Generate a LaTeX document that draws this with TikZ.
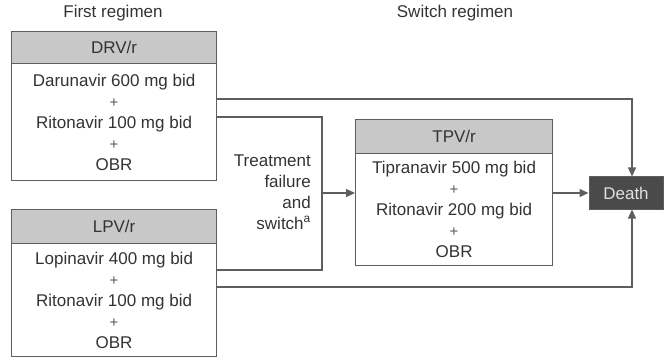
\documentclass[tikz,border=0pt]{standalone}
\usepackage{fontspec}
\setmainfont{Liberation Sans}
\usetikzlibrary{arrows.meta}
\definecolor{ink}{HTML}{333333}
\definecolor{edge}{HTML}{5E5E5E}
\definecolor{headfill}{HTML}{C8C8C8}
\definecolor{deathfill}{HTML}{4A4A4A}
\definecolor{plusink}{HTML}{5A5A5A}
% small, lighter plus sign between the drug lines
\newcommand{\drugplus}{{\fontsize{15}{21}\selectfont\color{plusink}+}}

\begin{document}
\begin{tikzpicture}[x=1pt,y=-1pt,
  font=\fontsize{17}{21}\selectfont, text=ink,
  headbox/.style={draw=edge, line width=1.2pt, fill=headfill, rectangle,
    inner sep=0pt, anchor=north west, minimum width=205pt},
  bodybox/.style={draw=edge, line width=1.2pt, fill=white, rectangle,
    inner sep=0pt, anchor=north west, minimum width=205pt, align=center},
  wire/.style={draw=edge, line width=1.3pt},
  arrowline/.style={wire, -{Triangle[length=9pt,width=8pt]}}]

\useasboundingbox (0,0) rectangle (666,358);

% column titles
\node (t1) at (113,13) {First regimen};
\node (t2) at (455,13) {Switch regimen};

% first regimen: DRV/r
\node[headbox, minimum height=32pt] (drvh) at (11,31) {DRV/r};
\node[bodybox, minimum height=117pt] (drvb) at (11,63)
  {Darunavir 600 mg bid\\\drugplus\\Ritonavir 100 mg bid\\\drugplus\\OBR};

% first regimen: LPV/r
\node[headbox, minimum height=34pt] (lpvh) at (11,209) {LPV/r};
\node[bodybox, minimum height=113pt] (lpvb) at (11,243)
  {Lopinavir 400 mg bid\\\drugplus\\Ritonavir 100 mg bid\\\drugplus\\OBR};

% switch regimen: TPV/r
\node[headbox, minimum width=197pt, minimum height=34pt] (tpvh) at (355,119) {TPV/r};
\node[bodybox, minimum width=197pt, minimum height=112pt] (tpvb) at (355,153)
  {Tipranavir 500 mg bid\\\drugplus\\Ritonavir 200 mg bid\\\drugplus\\OBR};

% outcome
\node[draw=edge, line width=1pt, fill=deathfill, text=white!88!black,
  minimum width=74pt, minimum height=32pt, inner sep=0pt] (death) at (626,193) {Death};

% switch label
\node[anchor=east, align=right, inner sep=0pt] (sw) at (311,192)
  {Treatment\\failure\\and\\switch\textsuperscript{a}};

% connector end points on the box sides
\coordinate (drvout) at ([yshift=-36pt]drvb.north east);
\coordinate (drvsw)  at ([yshift=-54pt]drvb.north east);
\coordinate (lpvsw)  at ([yshift=-27pt]lpvb.north east);
\coordinate (lpvout) at ([yshift=-44pt]lpvb.north east);
\coordinate (join)   at (322,193);

% bracket gathering both first regimens into the switch
\draw[wire] (drvsw) -| (join) |- (lpvsw);
\draw[arrowline] (join) -- (join -| tpvb.west);

% direct paths to death
\draw[arrowline] (drvout) -| ([xshift=6pt]death.north);
\draw[arrowline] (lpvout) -| ([xshift=6pt]death.south);
\draw[arrowline] (death.west -| tpvb.east) -- (death.west);

\end{tikzpicture}
\end{document}
